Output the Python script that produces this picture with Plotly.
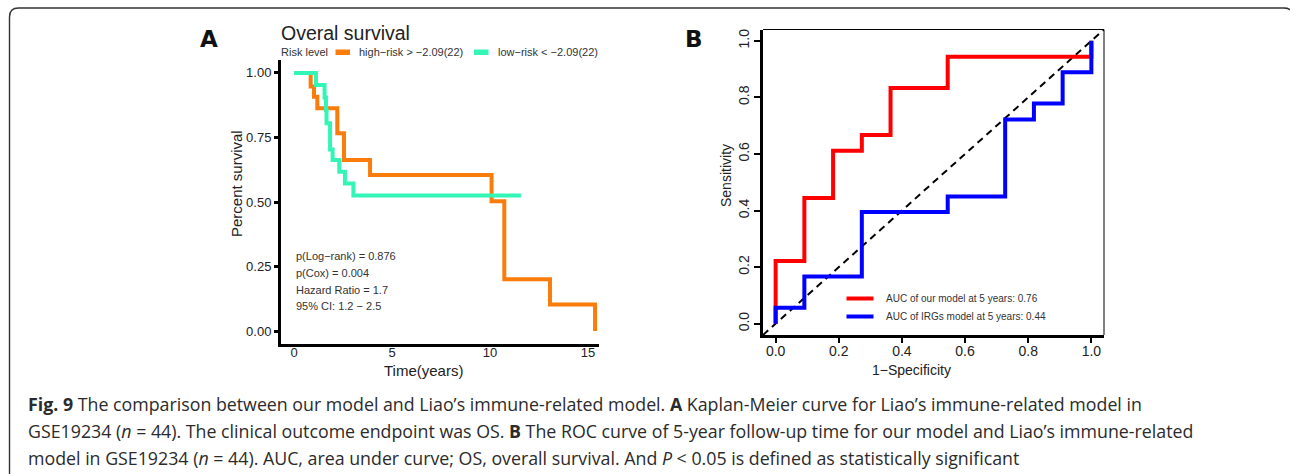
import plotly.graph_objects as go

W, H = 1290, 474

# ---------------- data ----------------
# Panel A: Kaplan-Meier step points (time in years, survival probability)
km_high_time = [0, 0.85, 1.02, 1.19, 2.21, 2.55, 3.88, 10.08, 10.73, 13.06, 15.36]
km_high_surv = [1.0, 0.947, 0.908, 0.863, 0.766, 0.663, 0.605, 0.503, 0.201, 0.103, 0.0]
km_low_time = [0, 1.12, 1.56, 1.63, 1.66, 1.84, 1.97, 2.31, 2.60, 3.03, 11.58]
km_low_surv = [1.0, 0.953, 0.905, 0.855, 0.805, 0.703, 0.663, 0.617, 0.572, 0.525, 0.525]
risk_labels = ["high\u2212risk > \u22122.09(22)", "low\u2212risk < \u22122.09(22)"]
risk_colors = ["#FA7D0C", "#33F5B6"]
km_xticks = [0, 5, 10, 15]
km_yticks = [0.0, 0.25, 0.5, 0.75, 1.0]
km_yticklabels = ["0.00", "0.25", "0.50", "0.75", "1.00"]
stats_lines = ["p(Log\u2212rank) = 0.876", "p(Cox) = 0.004",
               "Hazard Ratio = 1.7", "95% CI: 1.2 \u2212 2.5"]
stats_y = [0.29, 0.225, 0.16, 0.096]

# Panel B: ROC curves (1-specificity, sensitivity)
roc_our_fpr = [0, 0, 0.091, 0.182, 0.273, 0.364, 0.545, 1.0]
roc_our_tpr = [0, 0.222, 0.444, 0.611, 0.667, 0.833, 0.944, 1.0]
roc_irg_fpr = [0, 0, 0.091, 0.273, 0.545, 0.727, 0.818, 0.909, 1.0]
roc_irg_tpr = [0, 0.056, 0.167, 0.395, 0.45, 0.722, 0.778, 0.889, 1.0]
roc_labels = ["AUC of our model at 5 years: 0.76", "AUC of IRGs model at 5 years: 0.44"]
roc_colors = ["#FF0000", "#0000FF"]
roc_ticks = [0.0, 0.2, 0.4, 0.6, 0.8, 1.0]
roc_ticklabels = ["0.0", "0.2", "0.4", "0.6", "0.8", "1.0"]

caption_lines = [
    "<b>Fig. 9</b> The comparison between our model and Liao\u2019s immune-related model. "
    "<b>A</b> Kaplan-Meier curve for Liao\u2019s immune-related model in",
    "GSE19234 (<i>n</i> = 44). The clinical outcome endpoint was OS. <b>B</b> The ROC curve of "
    "5-year follow-up time for our model and Liao\u2019s immune-related",
    "model in GSE19234 (<i>n</i> = 44). AUC, area under curve; OS, overall survival. "
    "And <i>P</i> &lt; 0.05 is defined as statistically significant",
]


def px(x):
    return x / W


def py(y):
    return 1 - y / H


FONT = "Liberation Sans, Arial, sans-serif"
TXT = "#222222"

fig = go.Figure()

# KM curves (high first, low on top)
fig.add_trace(go.Scatter(x=km_high_time, y=km_high_surv, mode="lines", line_shape="hv",
                         line=dict(color=risk_colors[0], width=4), xaxis="x", yaxis="y",
                         showlegend=False, hoverinfo="skip"))
fig.add_trace(go.Scatter(x=km_low_time, y=km_low_surv, mode="lines", line_shape="hv",
                         line=dict(color=risk_colors[1], width=4), xaxis="x", yaxis="y",
                         showlegend=False, hoverinfo="skip"))

# ROC diagonal + curves
fig.add_trace(go.Scatter(x=[-0.04, 1.04], y=[-0.04, 1.04], mode="lines",
                         line=dict(color="black", width=2, dash="7px,5px"),
                         xaxis="x2", yaxis="y2", showlegend=False, hoverinfo="skip"))
fig.add_trace(go.Scatter(x=roc_our_fpr, y=roc_our_tpr, mode="lines", line_shape="hv",
                         line=dict(color=roc_colors[0], width=4), xaxis="x2", yaxis="y2",
                         showlegend=False, hoverinfo="skip"))
fig.add_trace(go.Scatter(x=roc_irg_fpr, y=roc_irg_tpr, mode="lines", line_shape="hv",
                         line=dict(color=roc_colors[1], width=4), xaxis="x2", yaxis="y2",
                         showlegend=False, hoverinfo="skip"))

annotations = []
shapes = []

# Panel A texts
annotations.append(dict(text="<b>A</b>", x=px(198), y=py(39), xanchor="left", yanchor="middle",
                        font=dict(family="DejaVu Sans, sans-serif", size=23, color="#111"),
                        showarrow=False, xref="paper", yref="paper"))
annotations.append(dict(text="Overal survival", x=px(279), y=py(33), xanchor="left", yanchor="middle",
                        font=dict(family=FONT, size=19.5, color=TXT), showarrow=False,
                        xref="paper", yref="paper"))
annotations.append(dict(text="Risk level", x=px(278.5), y=py(52), xanchor="left", yanchor="middle",
                        font=dict(family=FONT, size=11, color="#333"), showarrow=False,
                        xref="paper", yref="paper"))
leg_sw_x = [335.5, 474]
leg_tx_x = [357, 495.5]
for i in range(2):
    shapes.append(dict(type="rect", xref="paper", yref="paper",
                       x0=px(leg_sw_x[i]), x1=px(leg_sw_x[i] + 14.5), y0=py(49.5), y1=py(55),
                       fillcolor=risk_colors[i], line=dict(width=0)))
    annotations.append(dict(text=risk_labels[i], x=px(leg_tx_x[i]), y=py(52), xanchor="left",
                            yanchor="middle", font=dict(family=FONT, size=11, color="#333"),
                            showarrow=False, xref="paper", yref="paper"))
annotations.append(dict(text="Percent survival", x=px(237), y=py(184), xanchor="center",
                        yanchor="middle", textangle=-90, font=dict(family=FONT, size=15, color=TXT),
                        showarrow=False, xref="paper", yref="paper"))
annotations.append(dict(text="Time(years)", x=px(423), y=py(370), xanchor="center", yanchor="middle",
                        font=dict(family=FONT, size=15, color=TXT), showarrow=False,
                        xref="paper", yref="paper"))
for i, s in enumerate(stats_lines):
    annotations.append(dict(text=s, x=0, y=stats_y[i], xref="x", yref="y",
                            xanchor="left", yanchor="middle",
                            font=dict(family=FONT, size=11, color="#333"), showarrow=False))

# Panel B texts
annotations.append(dict(text="<b>B</b>", x=px(683), y=py(39), xanchor="left", yanchor="middle",
                        font=dict(family="DejaVu Sans, sans-serif", size=23, color="#111"),
                        showarrow=False, xref="paper", yref="paper"))
annotations.append(dict(text="Sensitivity", x=px(726), y=py(176), xanchor="center", yanchor="middle",
                        textangle=-90, font=dict(family=FONT, size=14, color=TXT), showarrow=False,
                        xref="paper", yref="paper"))
annotations.append(dict(text="1\u2212Specificity", x=px(911), y=py(370), xanchor="center",
                        yanchor="middle", font=dict(family=FONT, size=14, color=TXT),
                        showarrow=False, xref="paper", yref="paper"))
leg_y = [298.5, 316.5]
for i in range(2):
    shapes.append(dict(type="line", xref="paper", yref="paper", x0=px(846.5), x1=px(873.5),
                       y0=py(leg_y[i]), y1=py(leg_y[i]), line=dict(color=roc_colors[i], width=4)))
    annotations.append(dict(text=roc_labels[i], x=px(884.5), y=py(leg_y[i]), xanchor="left",
                            yanchor="middle", font=dict(family=FONT, size=10, color="#333"),
                            showarrow=False, xref="paper", yref="paper"))
# thin top/right of the ROC box
shapes.append(dict(type="line", xref="x2 domain", yref="y2 domain", x0=0, x1=1, y0=1, y1=1,
                   line=dict(color="black", width=1)))
shapes.append(dict(type="line", xref="x2 domain", yref="y2 domain", x0=1, x1=1, y0=0, y1=1,
                   line=dict(color="black", width=1)))

# Caption
cap_y = [404, 431, 457.5]
for i, line in enumerate(caption_lines):
    annotations.append(dict(text=line, x=px(26), y=py(cap_y[i]), xanchor="left", yanchor="middle",
                            font=dict(family="Open Sans, sans-serif", size=17.8, color="#2b2b2b"),
                            showarrow=False, xref="paper", yref="paper"))

# Rounded outer frame (top-left corner visible)
r = 9
x0, y0, x1, y1 = 9.5, 8, 1293, 478
path = (f"M {px(x0)},{py(y1)} L {px(x0)},{py(y0 + r)} Q {px(x0)},{py(y0)} {px(x0 + r)},{py(y0)} "
        f"L {px(x1 - r)},{py(y0)} Q {px(x1)},{py(y0)} {px(x1)},{py(y0 + r)} L {px(x1)},{py(y1)}")
shapes.append(dict(type="path", xref="paper", yref="paper", path=path,
                   line=dict(color="#333333", width=1.4)))

fig.update_layout(
    width=W, height=H, autosize=False,
    margin=dict(l=0, r=0, t=0, b=0, pad=0),
    paper_bgcolor="white", plot_bgcolor="white",
    showlegend=False,
    xaxis=dict(domain=[px(281), px(599)], range=[-0.663, 15.561], tickvals=km_xticks,
               ticks="", showline=True, linewidth=3, linecolor="black", showgrid=False,
               zeroline=False, tickfont=dict(family=FONT, size=13, color=TXT), anchor="y",
               ticklabelstandoff=-6, fixedrange=True),
    yaxis=dict(domain=[py(344), py(60)], range=[-0.05, 1.05], tickvals=km_yticks,
               ticktext=km_yticklabels, ticks="outside", ticklen=4, tickwidth=2.5, tickcolor="black",
               showline=True, linewidth=3, linecolor="black", showgrid=False, zeroline=False,
               tickfont=dict(family=FONT, size=13, color=TXT), anchor="x", fixedrange=True),
    xaxis2=dict(domain=[px(763), px(1104)], range=[-0.04, 1.04], tickvals=roc_ticks,
                ticktext=roc_ticklabels, ticks="outside", ticklen=5, tickwidth=2, tickcolor="black",
                showline=True, linewidth=2.5, linecolor="black", showgrid=False, zeroline=False,
                tickfont=dict(family=FONT, size=14, color=TXT), anchor="y2",
                ticklabelstandoff=-4, fixedrange=True),
    yaxis2=dict(domain=[py(335), py(29.5)], range=[-0.04, 1.04], tickvals=roc_ticks,
                ticktext=roc_ticklabels, ticks="outside", ticklen=6, tickwidth=2, tickcolor="black",
                tickangle=-90, showline=True, linewidth=2.5, linecolor="black", showgrid=False,
                zeroline=False, tickfont=dict(family=FONT, size=14, color=TXT), anchor="x2",
                fixedrange=True),
    annotations=annotations,
    shapes=shapes,
)

fig.write_html("out.html", config={"displayModeBar": False},
               post_script="document.body.style.margin='0px';document.body.style.overflow='hidden';")
